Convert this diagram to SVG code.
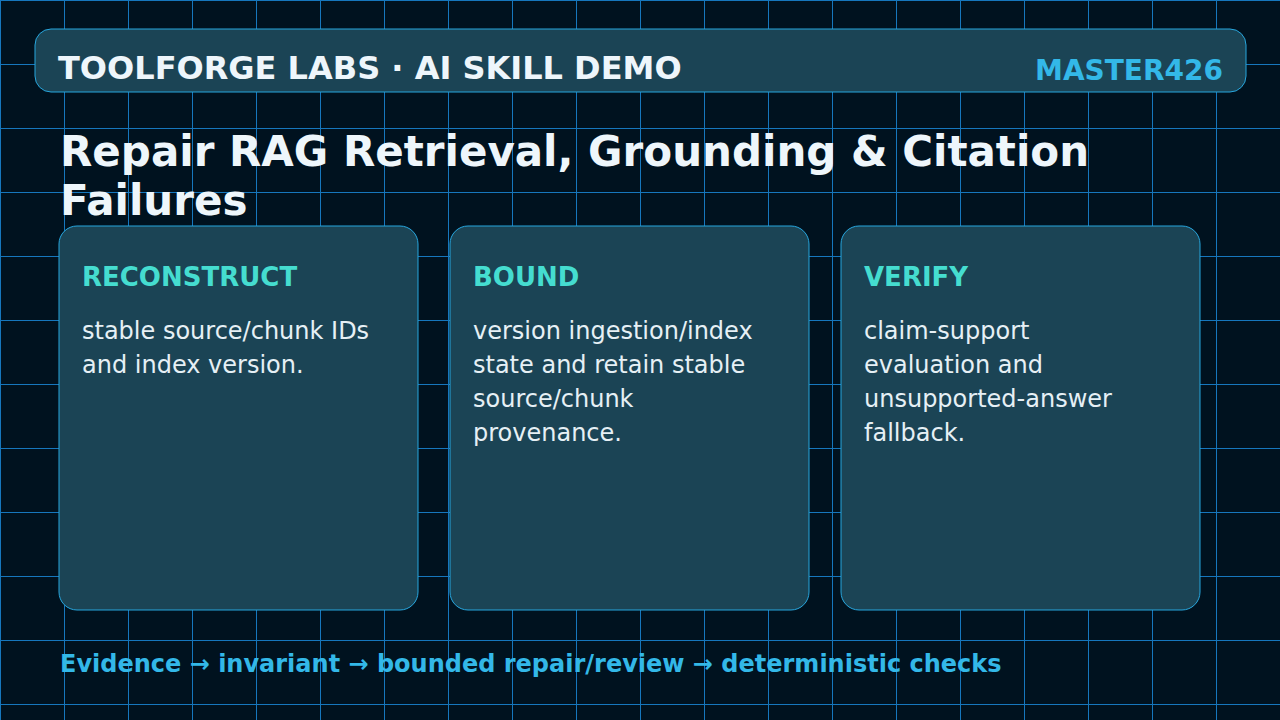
<svg xmlns="http://www.w3.org/2000/svg" width="1280" height="720" viewBox="0 0 1280 720">
<defs>
<pattern id="grid" x="0" y="0" width="64" height="64" patternUnits="userSpaceOnUse">
<path d="M0.5 0 V64 M0 0.5 H64" stroke="#1677bd" stroke-width="1" fill="none"/>
</pattern>
<style>
text{font-family:"DejaVu Sans","Liberation Sans",sans-serif}
.card{fill:#1b4455;stroke:#27a6de;stroke-width:1}
.h{font-size:26px;font-weight:bold;fill:#45ddd0}
.b{font-size:24px;fill:#e6f0f5}
</style>
</defs>
<rect width="1280" height="720" fill="#00121f"/>
<rect width="1280" height="720" fill="url(#grid)"/>
<g id="header">
<rect x="35" y="29" width="1211" height="63" rx="16" class="card"/>
<text x="58" y="79" font-size="32" font-weight="bold" fill="#eef6fb">TOOLFORGE LABS · AI SKILL DEMO</text>
<text x="1223" y="80" font-size="28" font-weight="bold" fill="#33b8e8" text-anchor="end">MASTER426</text>
</g>
<g id="title">
<text x="60" y="166" font-size="42" font-weight="bold" fill="#eef6fb">Repair RAG Retrieval, Grounding &amp; Citation</text>
<text x="60" y="215" font-size="42" font-weight="bold" fill="#eef6fb">Failures</text>
</g>
<g id="card-reconstruct">
<rect x="59" y="226" width="359" height="384" rx="18" class="card"/>
<text x="82" y="286" class="h">RECONSTRUCT</text>
<text class="b"><tspan x="82" y="339">stable source/chunk IDs</tspan><tspan x="82" y="373">and index version.</tspan></text>
</g>
<g id="card-bound">
<rect x="450" y="226" width="359" height="384" rx="18" class="card"/>
<text x="473" y="286" class="h">BOUND</text>
<text class="b"><tspan x="473" y="339">version ingestion/index</tspan><tspan x="473" y="373">state and retain stable</tspan><tspan x="473" y="407">source/chunk</tspan><tspan x="473" y="441">provenance.</tspan></text>
</g>
<g id="card-verify">
<rect x="841" y="226" width="359" height="384" rx="18" class="card"/>
<text x="864" y="286" class="h">VERIFY</text>
<text class="b"><tspan x="864" y="339">claim-support</tspan><tspan x="864" y="373">evaluation and</tspan><tspan x="864" y="407">unsupported-answer</tspan><tspan x="864" y="441">fallback.</tspan></text>
</g>
<g id="connectors"></g>
<g id="footer">
<text x="60" y="672" font-size="24" font-weight="bold" fill="#33b8e8">Evidence → invariant → bounded repair/review → deterministic checks</text>
</g>
</svg>
